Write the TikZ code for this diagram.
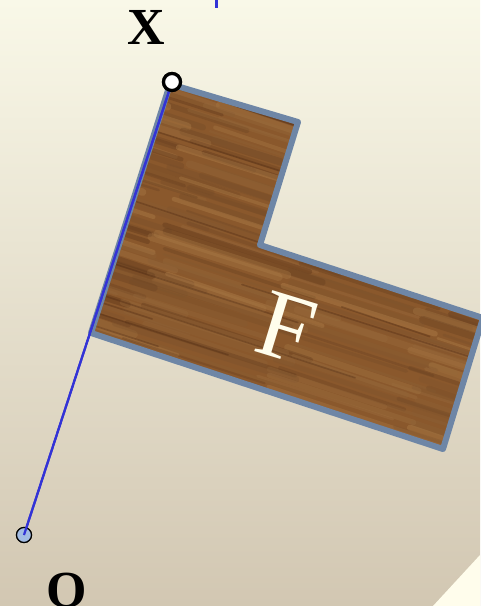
\documentclass[tikz,border=0pt]{standalone}
\usepackage{fontspec}
\setmainfont{Liberation Serif}
\definecolor{bgtop}{HTML}{F9F8E8}
\definecolor{bgmid}{HTML}{EAE5D4}
\definecolor{bgbot}{HTML}{D2C7B2}
\definecolor{woodbase}{HTML}{8A582C}
\definecolor{wdark}{HTML}{4A2610}
\definecolor{wlight}{HTML}{BF8F55}
\definecolor{rim}{HTML}{6E86A6}
\definecolor{segblue}{HTML}{3333D6}
\definecolor{ptblue}{HTML}{A3BCE3}
\definecolor{cream}{HTML}{FFFDEC}
\tikzset{
  rimline/.style={draw=rim, line width=6pt, line join=round},
  segline/.style={segblue, line width=2.2pt},
  freept/.style={circle, draw=black, line width=3.2pt, fill=white, minimum size=17pt, inner sep=0pt},
  basept/.style={circle, draw=black, line width=1.2pt, fill=ptblue, minimum size=15pt, inner sep=0pt},
  ptlabel/.style={font=\fontsize{52}{52}\selectfont\bfseries, text=black, inner sep=0pt},
  flabel/.style={font=\fontsize{97}{97}\selectfont, text=cream, inner sep=0pt}
}
\begin{document}
\begin{tikzpicture}[x=1pt,y=-1pt]
\useasboundingbox (0,0) rectangle (480,606);
\shade[top color=bgtop, middle color=bgmid, bottom color=bgbot] (0,0) rectangle (480,606);
\fill[cream] (433,606) -- (480,555) -- (480,606) -- cycle;
% L shape
\coordinate (P1) at (170,84);
\coordinate (P2) at (298,122);
\coordinate (P3) at (260,245);
\coordinate (P4) at (483,318);
\coordinate (P5) at (443,449);
\coordinate (P6) at (91,333);
\begin{scope}
\clip (P1)--(P2)--(P3)--(P4)--(P5)--(P6)--cycle;
\fill[woodbase] (0,0) rectangle (480,606);
\begin{scope}[rotate around={-18:(280,300)}]
\pgfmathsetseed{42}
\foreach \i in {0,...,120} {
  \foreach \j in {0,...,5} {
    \pgfmathtruncatemacro\c{rnd*100}
    \pgfmathsetmacro\w{2+rnd*6}
    \pgfmathsetmacro\dy{rnd*4}
    \pgfmathsetmacro\len{110+rnd*80}
    \draw[line width=\w pt, color=wdark!\c!wlight, opacity=0.3, line cap=round]
      (\j*140-150+\dy*10, \i*5.5-40+\dy) -- ++(\len,\dy-2);
  }
}
\foreach \i in {0,...,45} {
  \pgfmathsetmacro\y{rnd*660-50}
  \pgfmathsetmacro\x{rnd*600-120}
  \pgfmathsetmacro\len{80+rnd*200}
  \draw[line width=1.6pt, wdark, opacity=0.35, line cap=round]
    (\x,\y) -- ++(\len,rnd*4-2);
}
\end{scope}
\end{scope}
\draw[rimline] (P1)--(P2)--(P3)--(P4)--(P5)--(P6)--cycle;
\node[flabel, rotate=-17] (F) at (287,328) {F};
% points and segment
\node[basept] (O) at (24,535) {};
\node[freept] (X) at (172,82) {};
\draw[segline] (O.center) -- (X);
\node[basept] at (O) {};
\draw[segline] (O.center) -- (X);
\node[freept] at (X) {};
\node[ptlabel] (Xl) at (146,27) {X};
\node[ptlabel] (Ol) at (67,591) {O};
\coordinate (T1) at (216,-1);
\coordinate (T2) at (216,8);
\draw[segblue, line width=3pt] (T1) -- (T2);
\end{tikzpicture}
\end{document}
